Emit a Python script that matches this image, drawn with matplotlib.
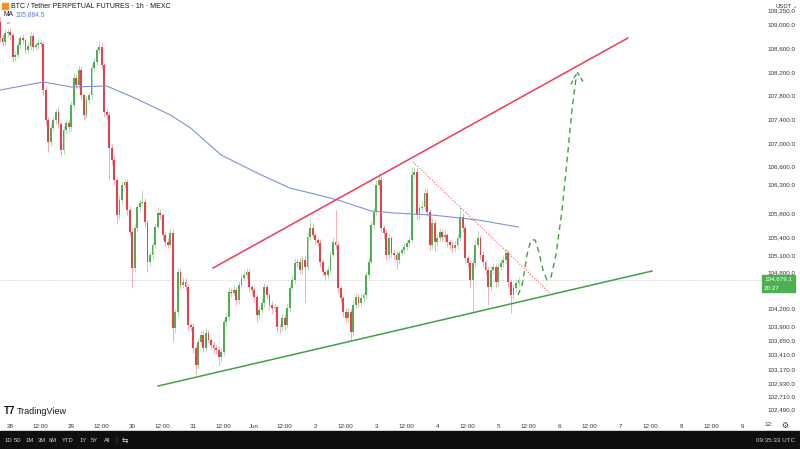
import matplotlib.pyplot as plt
from matplotlib.patches import Rectangle

# hourly BTC candles, starting May 27 20:00 (hour index 0)
first_open = 109050
closes = [
    108775, 108707, 108860, 108877, 108826, 108453, 108487, 108657, 108775, 108741,
    108572, 108640, 108809, 108623, 108657, 108691, 108674, 107894, 107386, 107014,
    107251, 107386, 107522, 107319, 106878, 107217, 107336, 107268, 107640, 108098,
    107979, 108233, 107810, 107471, 107725, 107810, 108267, 108369, 108572, 108623,
    108318, 107522, 107471, 106912, 106709, 106370, 105777, 106031, 106285, 106336,
    105862, 105489, 104879, 105557, 105912, 105980, 105997, 105658, 104981, 105099,
    105269, 105573, 105811, 105777, 105438, 105320, 105269, 105472, 103863, 104134,
    104811, 104591, 104642, 104557, 103914, 103880, 103524, 103236, 103626, 103744,
    103524, 103778, 103659, 103575, 103524, 103490, 103371, 103456, 103965, 104049,
    104472, 104455, 104506, 104337, 104591, 104710, 104761, 104811, 104557, 104506,
    104388, 104083, 104167, 104286, 104557, 104422, 104252, 104201, 104218, 103880,
    103875, 104032, 103914, 104201, 104540, 104676, 104964, 104981, 104845, 105015,
    104896, 105404, 105557, 105438, 105354, 105303, 104981, 104811, 104761, 104845,
    105099, 105320, 105269, 104540, 104371, 104134, 104032, 104134, 103795, 104252,
    104388, 104286, 104371, 104422, 104761, 104981, 105607, 105828, 106285, 106370,
    105557, 105472, 105099, 105387, 105133, 105099, 105015, 105133, 105184, 105235,
    105303, 105354, 106455, 106505, 105777, 105895, 105912, 106150, 105828, 105269,
    105641, 105320, 105387, 105489, 105404, 105438, 105320, 105269, 105218, 105269,
    105387, 105743, 105557, 105049, 104964, 104676, 104964, 105269, 105387, 105099,
    104981, 104845, 104557, 104845, 104896, 104642, 104896, 104964, 105015, 105133,
    104642, 104422, 104540, 104625, 104679,
]
up_wick = [
    80, 60, 70, 50, 60, 40, 60, 70, 50, 60, 40, 60, 70, 50, 40, 60, 50, 30, 60, 50,
    60, 70, 50, 80, 40, 60, 50, 70, 60, 90, 60, 80, 70, 40, 60, 50, 60, 70, 50, 90,
    60, 40, 60, 50, 70, 60, 40, 80, 60, 50, 50, 70, 60, 60, 50, 60, 200, 70, 40, 60,
    50, 60, 80, 60, 40, 50, 60, 90, 60, 50, 70, 60, 80, 60, 50, 40, 60, 50, 70, 60,
    60, 80, 50, 40, 60, 50, 60, 70, 50, 60, 90, 60, 80, 50, 60, 70, 90, 60, 50, 40,
    60, 50, 70, 80, 60, 50, 40, 60, 70, 40, 50, 60, 70, 60, 50, 60, 90, 60, 70, 60,
    60, 80, 170, 60, 50, 40, 60, 50, 40, 70, 60, 90, 540, 60, 50, 40, 60, 70, 50, 60,
    70, 50, 60, 50, 60, 80, 60, 70, 90, 110, 60, 50, 60, 80, 40, 50, 60, 50, 40, 60,
    50, 60, 140, 90, 60, 70, 80, 100, 60, 50, 90, 60, 70, 60, 50, 80, 40, 50, 60, 70,
    60, 170, 60, 50, 40, 50, 60, 80, 120, 50, 60, 40, 50, 70, 60, 50, 60, 70, 80, 70,
    60, 50, 70, 60, 50,
]
dn_wick = [
    60, 70, 50, 60, 80, 90, 60, 50, 60, 70, 60, 50, 60, 70, 50, 60, 50, 80, 90, 170,
    60, 50, 70, 60, 100, 70, 60, 80, 60, 50, 60, 70, 80, 90, 60, 50, 60, 50, 70, 50,
    60, 90, 80, 540, 90, 80, 150, 60, 70, 50, 80, 70, 340, 60, 50, 60, 40, 80, 170, 60,
    60, 50, 40, 60, 80, 60, 50, 40, 220, 80, 60, 70, 50, 60, 90, 60, 80, 170, 60, 50,
    70, 60, 50, 60, 80, 60, 150, 80, 50, 60, 60, 70, 40, 80, 60, 50, 40, 60, 80, 70,
    90, 120, 60, 50, 60, 70, 80, 100, 60, 80, 90, 60, 80, 50, 60, 40, 60, 70, 50, 60,
    600, 50, 60, 70, 60, 50, 90, 60, 80, 60, 50, 40, 60, 80, 70, 90, 80, 60, 150, 60,
    50, 60, 70, 80, 60, 50, 40, 60, 50, 70, 60, 80, 90, 60, 70, 60, 160, 70, 50, 60,
    50, 60, 40, 50, 80, 60, 70, 50, 60, 90, 70, 150, 60, 50, 60, 70, 80, 60, 70, 60,
    60, 50, 70, 80, 90, 140, 560, 60, 50, 70, 80, 90, 300, 60, 70, 80, 60, 50, 60, 70,
    80, 300, 60, 70, 50,
]

# moving average, read at a few hours
ma_hours = [0, 17, 28, 42, 53, 67, 75, 87, 102, 114, 122, 133, 146, 155, 170, 188, 204]
ma_values = [107894, 108030, 107945, 107962, 107759, 107471, 107251, 106793, 106471,
             106234, 106150, 106031, 105845, 105811, 105777, 105693, 105573]
ma_last = "105,884.5"

# drawings
res_hours, res_prices = [83.8, 247.0], [104879, 108775]
sup_hours, sup_prices = [62.2, 256.5], [102880, 104828]
dot_hours, dot_prices = [162.5, 217.6], [106675, 104405]
proj_hours = [203.8, 205.4, 207.3, 208.9, 210.5, 212.0, 213.6, 215.2, 216.8, 218.7,
              221.1, 223.1, 225.0, 226.8]
proj_prices = [104422, 104591, 105099, 105354, 105354, 105150, 104845, 104676, 104727,
               105099, 105862, 106709, 107556, 108160]
arrow_hours = [224.6, 227.0, 229.6]
arrow_prices = [107990, 108200, 108020]

last_price = 104679.1

x_ticks = [4, 16, 28, 40, 52, 64, 76, 88, 100, 112, 124, 136, 148, 160, 172, 184,
           196, 208, 220, 232, 244, 256, 268, 280, 292]
x_labels = ['28', '12:00', '29', '12:00', '30', '12:00', '31', '12:00', 'Jun', '12:00',
            '2', '12:00', '3', '12:00', '4', '12:00', '5', '12:00', '6', '12:00', '7',
            '12:00', '8', '12:00', '9']
y_ticks = [109250, 109000, 108600, 108200, 107800, 107400, 107000, 106600, 106300,
           105800, 105400, 105100, 104800, 104200, 103900, 103650, 103410, 103170,
           102930, 102710, 102490]

plt.rcParams['font.family'] = ['Liberation Sans', 'DejaVu Sans']
UP = '#4caf50'
DOWN = '#ef3b4a'

W, H = 800, 449
fig = plt.figure(figsize=(8, 4.49), dpi=100)
ax = fig.add_axes([0, 31 / H, 762 / W, 418 / H])

def fx(px):
    return px / W

def fy(py):
    return 1 - py / H

opens = [first_open] + closes[:-1]
hours = list(range(len(closes)))
for h, o, c, u, d in zip(hours, opens, closes, up_wick, dn_wick):
    col = UP if c >= o else DOWN
    top, bot = max(o, c), min(o, c)
    ax.vlines(h, bot - d, top + u, color=col, lw=0.5, alpha=0.6, zorder=2)
    ax.bar(h, max(top - bot, 12), bottom=bot, width=0.72, color=col, lw=0, zorder=3)

ax.plot(ma_hours, ma_values, color='#7f92d8', lw=0.8, zorder=4)
ax.axhline(last_price, color='#b8bbc4', lw=0.6, ls=(0, (1, 2)), zorder=1)

ax.plot(res_hours, res_prices, color='#ef3b57', lw=1.1, zorder=5)
ax.plot(sup_hours, sup_prices, color='#43a047', lw=1.1, zorder=5)
ax.plot(dot_hours, dot_prices, color='#ef5a6a', lw=0.8, ls=(0, (1, 1.6)), zorder=5)
ax.plot(proj_hours, proj_prices, color='#43a047', lw=1.0, ls=(0, (4, 3)), zorder=5)
ax.plot(arrow_hours, arrow_prices, color='#43a047', lw=1.0, ls=(0, (3, 2)), zorder=5)

ax.set_xlim(0, 762 / 2.542)
ax.set_ylim(109419 - 418 * 16.94, 109419)
for s in ax.spines.values():
    s.set_visible(False)
ax.set_xticks(x_ticks)
ax.set_xticklabels(x_labels)
ax.yaxis.tick_right()
ax.set_yticks(y_ticks)
ax.set_yticklabels([f'{v:,.1f}' for v in y_ticks])
ax.tick_params(axis='x', length=0, pad=4, labelsize=4.5, labelcolor='#333333')
ax.tick_params(axis='y', length=0, pad=4, labelsize=4.5, labelcolor='#333333')

# header
fig.patches.append(Rectangle((fx(2), fy(9)), fx(6), 6 / H, color='#f7931a',
                             transform=fig.transFigure, figure=fig))
fig.text(fx(11), fy(6), 'BTC / Tether PERPETUAL FUTURES · 1h · MEXC', fontsize=5,
         color='#131722', va='center')
fig.text(fx(3), fy(15), 'MA', fontsize=4.8, color='#131722', va='center')
fig.text(fx(16), fy(15), ma_last, fontsize=4.8, color='#5b7bd5', va='center')
fig.text(fx(8), fy(25), '^', fontsize=4.5, color='#555555', va='center', ha='center')
fig.text(fx(775), fy(6), 'USDT', fontsize=4.2, color='#333333', va='center')
fig.text(fx(793), fy(6), '⌄', fontsize=4, color='#555555', va='center')

# last price box
fig.patches.append(Rectangle((fx(762), fy(292)), fx(33), 17 / H, color=UP,
                             transform=fig.transFigure, figure=fig))
fig.text(fx(764), fy(279), '104,679.1', fontsize=4.5, color='white', va='center')
fig.text(fx(764), fy(288), '20:27', fontsize=4.5, color='white', va='center')

# logo
fig.text(fx(4), fy(411), 'T7', fontsize=7, weight='bold', color='#131722', va='center')
fig.text(fx(17), fy(411), 'TradingView', fontsize=6.5, color='#131722', va='center')

# bottom right
fig.text(fx(764), fy(425), '12:', fontsize=4.5, color='#333333', va='center')
fig.text(fx(785), fy(425), '⚙', fontsize=5.5, color='#333333', va='center', ha='center',
         family=['DejaVu Sans'])

# toolbar
fig.patches.append(Rectangle((0, 0), 1, 18 / H, color='#0f0f0f',
                             transform=fig.transFigure, figure=fig))
for lab, px in zip(['1D', '5D', '1M', '3M', '6M', 'YTD', '1Y', '5Y', 'All'],
                   [8, 18, 30, 42, 53, 68, 83, 94, 107]):
    fig.text(fx(px), fy(440), lab, fontsize=4.2, color='#d1d4dc', va='center', ha='center')
fig.text(fx(116), fy(440), '|', fontsize=5, color='#555555', va='center', ha='center')
fig.text(fx(125), fy(440), '⇆', fontsize=5.5, color='#d1d4dc', va='center', ha='center',
         family=['DejaVu Sans'])
fig.text(fx(795), fy(440), '09:35:33 UTC', fontsize=4.5, color='#d1d4dc', va='center',
         ha='right')

fig.savefig('out.png', dpi=100, facecolor='white')
